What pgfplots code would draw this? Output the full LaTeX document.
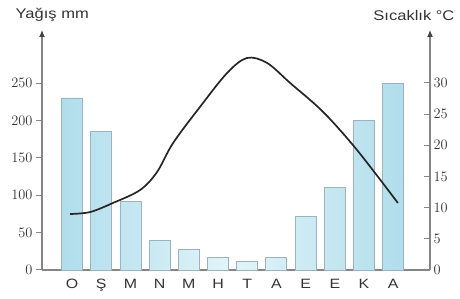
\documentclass[border=0pt]{standalone}
\usepackage{pgfplots}
\pgfplotsset{compat=1.18}
\usetikzlibrary{arrows.meta}
\usepackage{fontspec}
\setmainfont{Liberation Sans}[FakeStretch=1.18]
\definecolor{txt}{HTML}{333333}
\definecolor{axc}{HTML}{858585}
\definecolor{arr}{HTML}{444444}
\definecolor{barb}{HTML}{B0DDEC}
\definecolor{barm}{HTML}{E2F4F9}
\definecolor{bare}{HTML}{9CB3BC}
\begin{document}
\begin{tikzpicture}[x=1pt,y=1pt]
\path[use as bounding box] (-42,-29) rectangle (418,270);
\begin{axis}[
  scale only axis, width=388pt, height=240pt,
  xmin=-1.03, xmax=12.26, ymin=0, ymax=320.9,
  axis x line=bottom, axis y line=left,
  axis line style={axc, line width=1.1pt},
  every outer x axis line/.append style={-},
  every outer y axis line/.append style={-{Latex[length=7pt,width=6pt,color=arr]}},
  xtick={0,...,11}, xticklabels={O,Ş,M,N,M,H,T,A,E,E,K,A},
  x tick style={draw=none},
  ytick={0,50,100,150,200,250},
  y tick style={axc, line width=1pt},
  tick align=outside, major tick length=6pt,
  ytick pos=left,
  ticklabel style={font=\fontsize{13.5}{14}\selectfont, text=txt},
  clip=false,
]
\addplot[ybar, bar width=21pt, draw=bare, line width=0.9pt,
  left color=barb, right color=barb, middle color=barm]
  coordinates {(0,230) (1,185) (2,91) (3,40) (4,27) (5,17) (6,12) (7,17) (8,72) (9,110) (10,200) (11,250)};
\node[anchor=base west, font=\fontsize{14}{14}\selectfont, text=txt] at (rel axis cs:-0.077,1.046) {Yağış mm};
\node[anchor=base east, font=\fontsize{14}{14}\selectfont, text=txt] at (rel axis cs:1.072,1.0375) {Sıcaklık °C};
\end{axis}
\begin{axis}[
  scale only axis, width=388pt, height=240pt,
  xmin=-1.03, xmax=12.26, ymin=0, ymax=38.5,
  axis x line=none, axis y line=right,
  axis line style={axc, line width=1.1pt},
  every outer y axis line/.append style={-{Latex[length=7pt,width=6pt,color=arr]}},
  ytick={0,5,10,15,20,25,30},
  y tick style={axc, line width=1pt},
  tick align=inside, major tick length=6pt,
  ticklabel style={font=\fontsize{13.5}{14}\selectfont, text=txt},
]
\addplot[black!85, line width=1.7pt, smooth, tension=0.55] coordinates {
 (-0.07,8.98) (0.62,9.30) (1.40,10.75) (2.33,12.83) (2.91,15.72) (3.46,20.37)
 (4.38,26.15) (5.31,31.60) (5.99,34.01) (6.68,33.21) (7.47,30.0) (8.60,25.35)
 (9.76,19.25) (11.16,10.75)};
\end{axis}
\end{tikzpicture}
\end{document}
